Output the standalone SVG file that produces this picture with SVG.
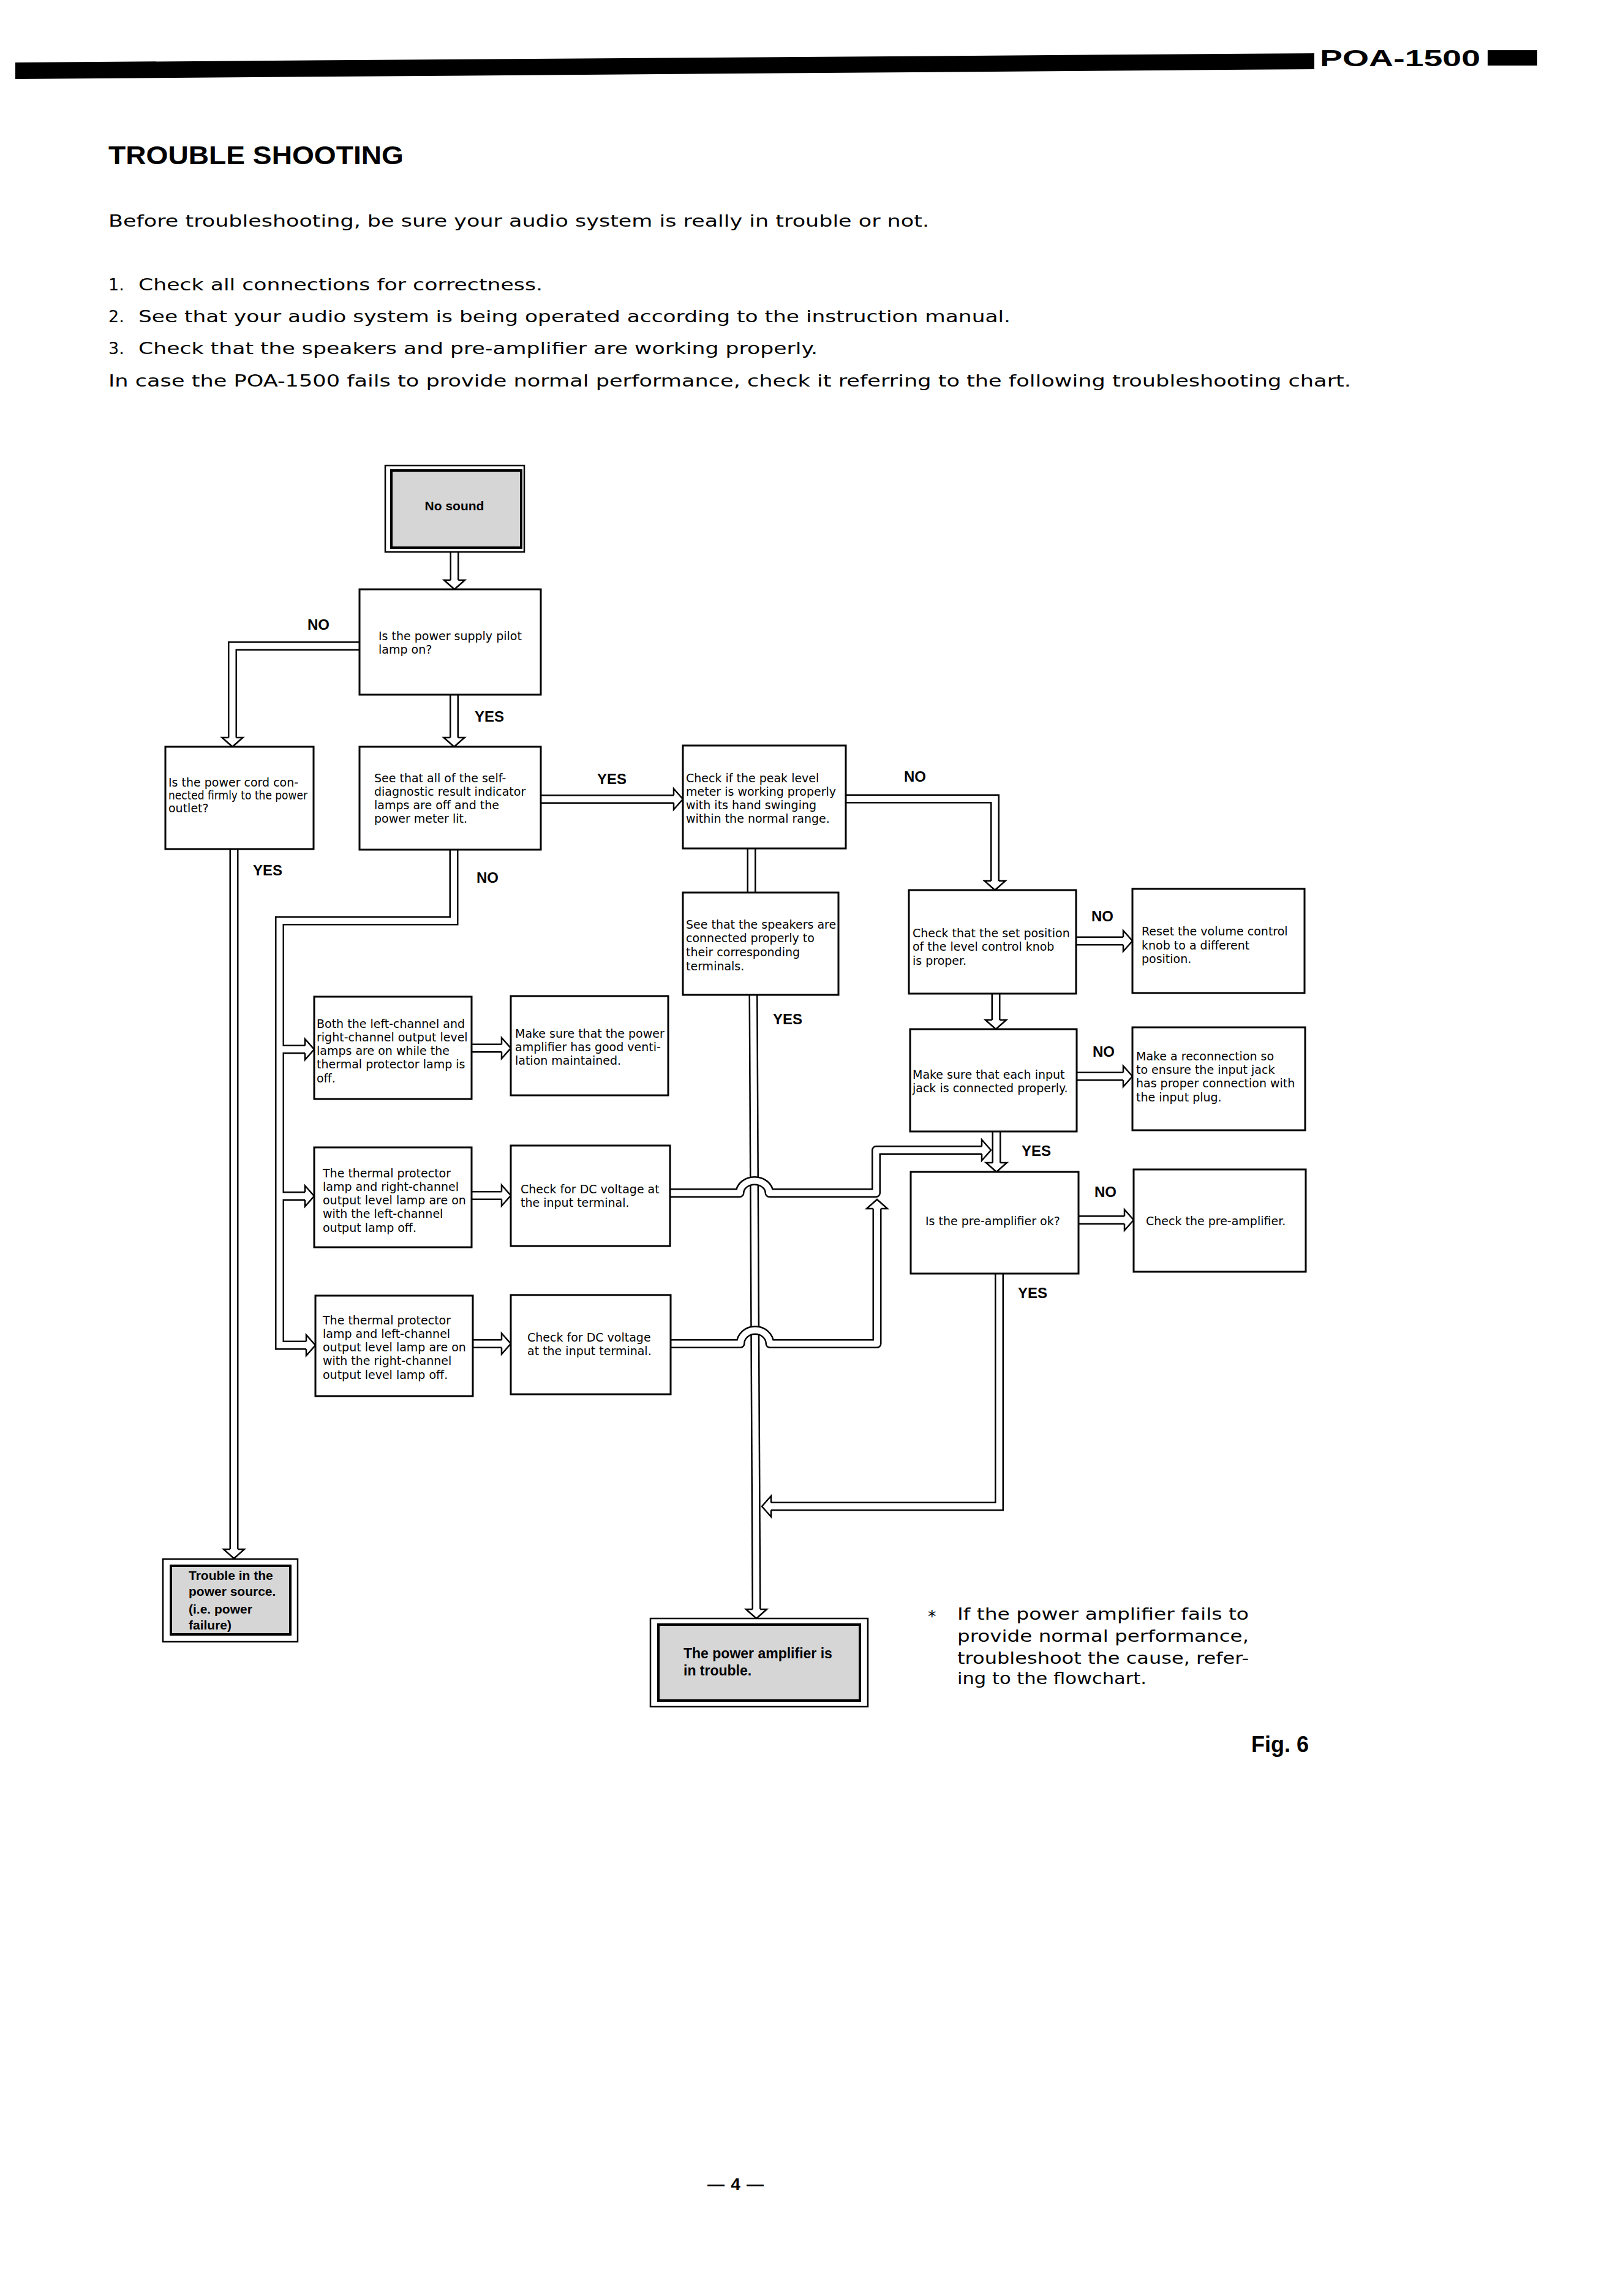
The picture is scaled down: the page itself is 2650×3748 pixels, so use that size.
<svg xmlns="http://www.w3.org/2000/svg" width="2650" height="3748" viewBox="0 0 2650 3748">
<defs>
<style>
.box{fill:#fff;stroke:#000;stroke-width:3}
.frame{fill:#fff;stroke:#000;stroke-width:2.5}
.shade{fill:#d6d6d6;stroke:#000;stroke-width:4}
.pk{fill:none;stroke:#000;stroke-width:15}
.pw{fill:none;stroke:#fff;stroke-width:10}
.ah{fill:#fff;stroke:#000;stroke-width:2.5}
.t{font-family:"DejaVu Sans",sans-serif;font-size:19px;fill:#000}
.lb{font-family:"Liberation Sans",Arial,sans-serif;font-weight:bold;font-size:24px;text-anchor:middle}
.bt{font-family:"Liberation Sans",Arial,sans-serif;font-weight:bold}
.pg{font-family:"DejaVu Sans",sans-serif;font-size:27px}
</style>
<polyline id="aD" class="ah" points="-6.25,-15 -17,-15 0,0 17,-15 6.25,-15"/>
<polyline id="aR" class="ah" points="-15,-6.25 -15,-17 0,0 -15,17 -15,6.25"/>
<polyline id="aL" class="ah" points="15,-6.25 15,-17 0,0 15,17 15,6.25"/>
<polyline id="aU" class="ah" points="-6.25,15 -17,15 0,0 17,15 6.25,15"/>
</defs>
<rect width="2650" height="3748" fill="#fff"/>

<g id="header">
<polygon points="25,102 2146,87 2146,113 25,129" fill="#000"/>
<text class="bt" x="2155" y="108" font-size="36" textLength="262" lengthAdjust="spacingAndGlyphs">POA-1500</text>
<rect x="2429" y="82" width="81" height="25" fill="#000"/>
</g>

<g id="intro">
<text class="bt" x="177" y="268" font-size="42" textLength="482" lengthAdjust="spacingAndGlyphs">TROUBLE SHOOTING</text>
<text class="pg" x="177" y="370" textLength="1340" lengthAdjust="spacingAndGlyphs">Before troubleshooting, be sure your audio system is really in trouble or not.</text>
<text class="pg" x="177" y="474">1.</text>
<text class="pg" x="226" y="474" textLength="660" lengthAdjust="spacingAndGlyphs">Check all connections for correctness.</text>
<text class="pg" x="177" y="526">2.</text>
<text class="pg" x="226" y="526" textLength="1424" lengthAdjust="spacingAndGlyphs">See that your audio system is being operated according to the instruction manual.</text>
<text class="pg" x="177" y="578">3.</text>
<text class="pg" x="226" y="578" textLength="1109" lengthAdjust="spacingAndGlyphs">Check that the speakers and pre-amplifier are working properly.</text>
<text class="pg" x="177" y="631" textLength="2029" lengthAdjust="spacingAndGlyphs">In case the POA-1500 fails to provide normal performance, check it referring to the following troubleshooting chart.</text>
</g>

<g id="connectors">
<g class="pk">
<path d="M742,901 V947"/>
<path d="M587,1054.5 H379.5 V1204"/>
<path d="M741.5,1134 V1204"/>
<path d="M883,1304.5 H1100"/>
<path d="M1381,1304 H1624.5 V1438"/>
<path d="M1227,1385 V1457"/>
<path d="M1230,1624 L1235,2627"/>
<path d="M1626,1622 V1665"/>
<path d="M1757,1536 H1834"/>
<path d="M1758,1757 H1834"/>
<path d="M1627,1847 V1898"/>
<path d="M1761,1991.5 H1836"/>
<path d="M1631.5,2079 V2459 H1259"/>
<path d="M741,1387 V1503 H456.5 V2196 H500"/>
<path d="M456.5,1713 H498"/>
<path d="M456.5,1952.5 H498"/>
<path d="M770,1711 H819"/>
<path d="M770,1951.5 H819"/>
<path d="M772,2193.5 H819"/>
<path d="M382,1386 V2529"/>
</g>
<g class="pw">
<path d="M742,901 V947"/>
<path d="M587,1054.5 H379.5 V1204"/>
<path d="M741.5,1134 V1204"/>
<path d="M883,1304.5 H1100"/>
<path d="M1381,1304 H1624.5 V1438"/>
<path d="M1227,1385 V1457"/>
<path d="M1230,1624 L1235,2627"/>
<path d="M1626,1622 V1665"/>
<path d="M1757,1536 H1834"/>
<path d="M1758,1757 H1834"/>
<path d="M1627,1847 V1898"/>
<path d="M1761,1991.5 H1836"/>
<path d="M1631.5,2079 V2459 H1259"/>
<path d="M741,1387 V1503 H456.5 V2196 H500"/>
<path d="M456.5,1713 H498"/>
<path d="M456.5,1952.5 H498"/>
<path d="M770,1711 H819"/>
<path d="M770,1951.5 H819"/>
<path d="M772,2193.5 H819"/>
<path d="M382,1386 V2529"/>
</g>
<path class="pk" stroke-linejoin="round" d="M1094,1947.5 H1208 A24,20 0 0 1 1256,1947.5 H1430.5 V1877.5 H1603"/>
<path class="pw" stroke-linejoin="round" d="M1094,1947.5 H1208 A24,20 0 0 1 1256,1947.5 H1430.5 V1877.5 H1603"/>
<path class="pk" stroke-linejoin="round" d="M1095,2193.5 H1209 A24,22 0 0 1 1257,2193.5 H1432 V1973"/>
<path class="pw" stroke-linejoin="round" d="M1095,2193.5 H1209 A24,22 0 0 1 1257,2193.5 H1432 V1973"/>
<use href="#aD" x="742" y="962"/>
<use href="#aD" x="379.5" y="1219"/>
<use href="#aD" x="741.5" y="1219"/>
<use href="#aR" x="1115" y="1304.5"/>
<use href="#aD" x="1624.5" y="1453"/>
<use href="#aD" x="1235" y="2642"/>
<use href="#aD" x="1626" y="1680"/>
<use href="#aR" x="1849" y="1536"/>
<use href="#aR" x="1849" y="1757"/>
<use href="#aD" x="1627" y="1913"/>
<use href="#aR" x="1851" y="1991.5"/>
<use href="#aL" x="1244" y="2459"/>
<use href="#aR" x="513" y="1713"/>
<use href="#aR" x="513" y="1952.5"/>
<use href="#aR" x="515" y="2196"/>
<use href="#aR" x="834" y="1711"/>
<use href="#aR" x="834" y="1951.5"/>
<use href="#aR" x="834" y="2193.5"/>
<use href="#aR" x="1618" y="1877.5"/>
<use href="#aU" x="1432" y="1958"/>
<use href="#aD" x="382" y="2544"/>
<text class="lb" x="520" y="1028">NO</text>
<text class="lb" x="799" y="1178">YES</text>
<text class="lb" x="999" y="1280">YES</text>
<text class="lb" x="1494" y="1276">NO</text>
<text class="lb" x="437" y="1429">YES</text>
<text class="lb" x="796" y="1441">NO</text>
<text class="lb" x="1800" y="1504">NO</text>
<text class="lb" x="1286" y="1672">YES</text>
<text class="lb" x="1802" y="1725">NO</text>
<text class="lb" x="1692" y="1887">YES</text>
<text class="lb" x="1805" y="1954">NO</text>
<text class="lb" x="1686" y="2119">YES</text>
</g>

<g id="n-no-sound">
<rect class="frame" x="629" y="760" width="227" height="141"/>
<rect class="shade" x="639" y="768" width="212" height="126"/>
<text class="bt" x="742" y="833" font-size="21" text-anchor="middle">No sound</text>
</g>
<g id="n-power-pilot">
<rect class="box" x="587" y="962" width="296" height="172"/>
<text class="t"><tspan x="618" y="1045">Is the power supply pilot</tspan><tspan x="618" y="1067">lamp on?</tspan></text>
</g>
<g id="n-power-cord">
<rect class="box" x="270" y="1219" width="242" height="167"/>
<text class="t" font-size="16.5"><tspan x="275" y="1284">Is the power cord con-</tspan><tspan x="275" y="1305" textLength="227" lengthAdjust="spacingAndGlyphs">nected firmly to the power</tspan><tspan x="275" y="1326">outlet?</tspan></text>
</g>
<g id="n-self-diag">
<rect class="box" x="587" y="1219" width="296" height="168"/>
<text class="t"><tspan x="611" y="1277">See that all of the self-</tspan><tspan x="611" y="1299">diagnostic result indicator</tspan><tspan x="611" y="1321">lamps are off and the</tspan><tspan x="611" y="1343">power meter lit.</tspan></text>
</g>
<g id="n-peak-meter">
<rect class="box" x="1115" y="1217" width="266" height="168"/>
<text class="t"><tspan x="1120" y="1277">Check if the peak level</tspan><tspan x="1120" y="1299">meter is working properly</tspan><tspan x="1120" y="1321">with its hand swinging</tspan><tspan x="1120" y="1343">within the normal range.</tspan></text>
</g>
<g id="n-speakers">
<rect class="box" x="1115" y="1457" width="254" height="167"/>
<text class="t"><tspan x="1120" y="1516">See that the speakers are</tspan><tspan x="1120" y="1538">connected properly to</tspan><tspan x="1120" y="1561">their corresponding</tspan><tspan x="1120" y="1584">terminals.</tspan></text>
</g>
<g id="n-level-knob">
<rect class="box" x="1484" y="1453" width="273" height="169"/>
<text class="t"><tspan x="1490" y="1530">Check that the set position</tspan><tspan x="1490" y="1552">of the level control knob</tspan><tspan x="1490" y="1575">is proper.</tspan></text>
</g>
<g id="n-reset-volume">
<rect class="box" x="1849" y="1451" width="281" height="170"/>
<text class="t"><tspan x="1864" y="1527">Reset the volume control</tspan><tspan x="1864" y="1550">knob to a different</tspan><tspan x="1864" y="1572">position.</tspan></text>
</g>
<g id="n-input-jack">
<rect class="box" x="1486" y="1680" width="272" height="167"/>
<text class="t"><tspan x="1490" y="1761">Make sure that each input</tspan><tspan x="1490" y="1783">jack is connected properly.</tspan></text>
</g>
<g id="n-reconnect">
<rect class="box" x="1849" y="1677" width="282" height="168"/>
<text class="t"><tspan x="1855" y="1731">Make a reconnection so</tspan><tspan x="1855" y="1753">to ensure the input jack</tspan><tspan x="1855" y="1775">has proper connection with</tspan><tspan x="1855" y="1798">the input plug.</tspan></text>
</g>
<g id="n-preamp-ok">
<rect class="box" x="1487" y="1913" width="274" height="166"/>
<text class="t" x="1511" y="2000">Is the pre-amplifier ok?</text>
</g>
<g id="n-check-preamp">
<rect class="box" x="1851" y="1909" width="281" height="167"/>
<text class="t" x="1871" y="2000">Check the pre-amplifier.</text>
</g>
<g id="n-both-channels">
<rect class="box" x="513" y="1627" width="257" height="167"/>
<text class="t"><tspan x="517" y="1678">Both the left-channel and</tspan><tspan x="517" y="1700">right-channel output level</tspan><tspan x="517" y="1722">lamps are on while the</tspan><tspan x="517" y="1744">thermal protector lamp is</tspan><tspan x="517" y="1767">off.</tspan></text>
</g>
<g id="n-ventilation">
<rect class="box" x="834" y="1626" width="257" height="162"/>
<text class="t"><tspan x="841" y="1694">Make sure that the power</tspan><tspan x="841" y="1716">amplifier has good venti-</tspan><tspan x="841" y="1738">lation maintained.</tspan></text>
</g>
<g id="n-thermal-right">
<rect class="box" x="513" y="1873" width="257" height="163"/>
<text class="t"><tspan x="527" y="1922">The thermal protector</tspan><tspan x="527" y="1944">lamp and right-channel</tspan><tspan x="527" y="1966">output level lamp are on</tspan><tspan x="527" y="1988">with the left-channel</tspan><tspan x="527" y="2011">output lamp off.</tspan></text>
</g>
<g id="n-dc-check-1">
<rect class="box" x="834" y="1870" width="260" height="164"/>
<text class="t"><tspan x="850" y="1948">Check for DC voltage at</tspan><tspan x="850" y="1970">the input terminal.</tspan></text>
</g>
<g id="n-thermal-left">
<rect class="box" x="515" y="2115" width="257" height="164"/>
<text class="t"><tspan x="527" y="2162">The thermal protector</tspan><tspan x="527" y="2184">lamp and left-channel</tspan><tspan x="527" y="2206">output level lamp are on</tspan><tspan x="527" y="2228">with the right-channel</tspan><tspan x="527" y="2251">output level lamp off.</tspan></text>
</g>
<g id="n-dc-check-2">
<rect class="box" x="834" y="2114" width="261" height="162"/>
<text class="t"><tspan x="861" y="2190">Check for DC voltage</tspan><tspan x="861" y="2212">at the input terminal.</tspan></text>
</g>
<g id="n-power-source">
<rect class="frame" x="266" y="2545" width="220" height="135"/>
<rect class="shade" x="279" y="2556" width="195" height="112"/>
<text class="bt" font-size="21"><tspan x="308" y="2579">Trouble in the</tspan><tspan x="308" y="2605">power source.</tspan><tspan x="308" y="2634">(i.e. power</tspan><tspan x="308" y="2660">failure)</tspan></text>
</g>
<g id="n-amp-trouble">
<rect class="frame" x="1062" y="2642" width="355" height="144"/>
<rect class="shade" x="1075" y="2652" width="329" height="124"/>
<text class="bt" font-size="23"><tspan x="1116" y="2707">The power amplifier is</tspan><tspan x="1116" y="2735">in trouble.</tspan></text>
</g>

<g id="footnote">
<text class="pg" x="1515" y="2648" font-size="26">*</text>
<text class="pg" font-size="26"><tspan x="1563" y="2644" textLength="476" lengthAdjust="spacingAndGlyphs">If the power amplifier fails to</tspan><tspan x="1563" y="2680" textLength="476" lengthAdjust="spacingAndGlyphs">provide normal performance,</tspan><tspan x="1563" y="2716" textLength="476" lengthAdjust="spacingAndGlyphs">troubleshoot the cause, refer-</tspan><tspan x="1563" y="2749" textLength="309" lengthAdjust="spacingAndGlyphs">ing to the flowchart.</tspan></text>
<text class="bt" x="2043" y="2860" font-size="36">Fig. 6</text>
<text class="bt" x="1155" y="3575" font-size="28" textLength="92" lengthAdjust="spacing">— 4 —</text>
</g>
</svg>
